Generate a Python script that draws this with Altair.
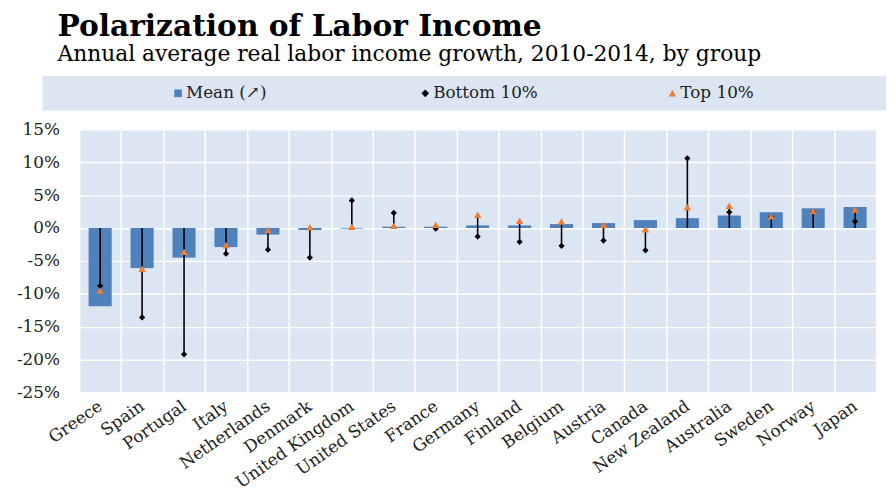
import altair as alt
import pandas as pd

countries = ["Greece", "Spain", "Portugal", "Italy", "Netherlands", "Denmark",
             "United Kingdom", "United States", "France", "Germany", "Finland",
             "Belgium", "Austria", "Canada", "New Zealand", "Australia",
             "Sweden", "Norway", "Japan"]
mean_vals = [-11.9, -6.1, -4.5, -2.9, -1.0, -0.3, -0.1, 0.2, 0.2, 0.4, 0.4,
             0.6, 0.75, 1.2, 1.5, 1.9, 2.4, 3.0, 3.2]
bottom_vals = [-8.8, -13.6, -19.2, -3.9, -3.3, -4.5, 4.2, 2.3, -0.1, -1.3, -2.1,
               -2.7, -1.9, -3.4, 10.6, 2.4, 1.7, 2.4, 1.0]
top_vals = [-9.5, -6.2, -3.6, -2.6, -0.3, 0.1, 0.2, 0.35, 0.5, 2.0, 1.1,
            1.0, 0.5, -0.2, 3.2, 3.4, 1.8, 2.6, 2.8]
legend_labels = ["Mean (\u2197)", "Bottom 10%", "Top 10%"]
y_ticks = [-25, -20, -15, -10, -5, 0, 5, 10, 15]

FONT = "DejaVu Serif"
BG = "#DCE6F2"
PLOT_W = 806
LEG_H = 35

df = pd.DataFrame({"country": countries, "mean": mean_vals,
                   "bottom": bottom_vals, "top": top_vals})
df["lo"] = df[["bottom", "top"]].min(axis=1).clip(upper=0)
df["hi"] = df[["bottom", "top"]].max(axis=1).clip(lower=0)

xaxis = alt.Axis(title=None, labelAngle=-35, labelAlign="right",
                 labelBaseline="middle", labelFont=FONT,
                 labelFontSize=17, labelColor="#222222",
                 labelPadding=12, labelOverlap=False,
                 domain=False, ticks=False, grid=True,
                 gridColor="white", gridWidth=1.5, tickBand="extent")
yaxis = alt.Axis(title=None, values=y_ticks,
                 labelExpr="datum.value + '%'",
                 labelFont=FONT, labelFontSize=17,
                 labelColor="#222222", labelPadding=20,
                 labelOverlap=False, labelFlush=False,
                 domain=False, ticks=False, grid=True,
                 gridColor="white", gridWidth=1.5,
                 minExtent=72, maxExtent=72)
xscale = alt.Scale(paddingInner=0, paddingOuter=0)
yscale = alt.Scale(domain=[-25, 15], nice=False)


def xenc():
    return alt.X("country:N", sort=countries, scale=xscale, axis=xaxis)


def yenc(field):
    return alt.Y(field, scale=yscale, axis=yaxis)


base = alt.Chart(df)
bars = base.mark_bar(color="#4F81BD", width=alt.RelativeBandSize(0.55)).encode(
    x=xenc(), y=yenc("mean:Q"))
rules = base.mark_rule(color="black", strokeWidth=1.6).encode(
    x=xenc(), y=yenc("lo:Q"), y2="hi:Q")
diamonds = base.mark_point(shape="diamond", filled=True, color="black",
                           size=40, opacity=1).encode(
    x=xenc(), y=yenc("bottom:Q"))
triangles = base.mark_point(shape="triangle-up", filled=True, color="#ED7D31",
                            size=58, opacity=1).encode(
    x=xenc(), y=yenc("top:Q"))
main = alt.layer(bars, rules, diamonds, triangles).properties(
    width=PLOT_W, height=266, view=alt.ViewBackground(fill=BG, stroke=None))

# legend strip: a light-blue panel reaching a little left of the plot area
panel = alt.Chart(pd.DataFrame({"panel": [0]})).mark_rect(
    color=BG).encode(
    x=alt.value(-37), x2=alt.value(PLOT_W + 10),
    y=alt.value(0), y2=alt.value(LEG_H))

ldf = pd.DataFrame({"label": legend_labels})
lx = alt.X("label:N", sort=legend_labels,
           scale=alt.Scale(type="point", padding=0.612), axis=None)
lsym = alt.Chart(ldf).mark_point(filled=True, opacity=1, size=60,
                                 xOffset=-53).encode(
    x=lx,
    shape=alt.Shape("label:N", scale=alt.Scale(
        domain=legend_labels, range=["square", "diamond", "triangle-up"]),
        legend=None),
    color=alt.Color("label:N", scale=alt.Scale(
        domain=legend_labels, range=["#4F81BD", "black", "#ED7D31"]),
        legend=None),
)
ltxt = alt.Chart(ldf).mark_text(align="left", dx=-45, font=FONT, fontSize=17,
                                color="#222222").encode(
    x=lx, text="label:N")
legend_strip = alt.layer(panel, lsym, ltxt).properties(
    width=PLOT_W, height=LEG_H)

chart = alt.vconcat(legend_strip, main, spacing=10).properties(
    title=alt.TitleParams(
        text="Polarization of Labor Income",
        subtitle="Annual average real labor income growth, 2010-2014, by group",
        anchor="start", frame="bounds", dx=50,
        font=FONT, fontSize=30, fontWeight="bold", color="black",
        subtitleFont=FONT, subtitleFontSize=22, subtitleColor="black",
        subtitlePadding=2, offset=11),
    background="white",
    padding={"top": 2, "bottom": 0, "left": 0, "right": 0},
).configure_view(stroke=None).configure_axis(labelOverlap=False)

chart.save("out.html", embed_options={"renderer": "svg", "actions": False})
